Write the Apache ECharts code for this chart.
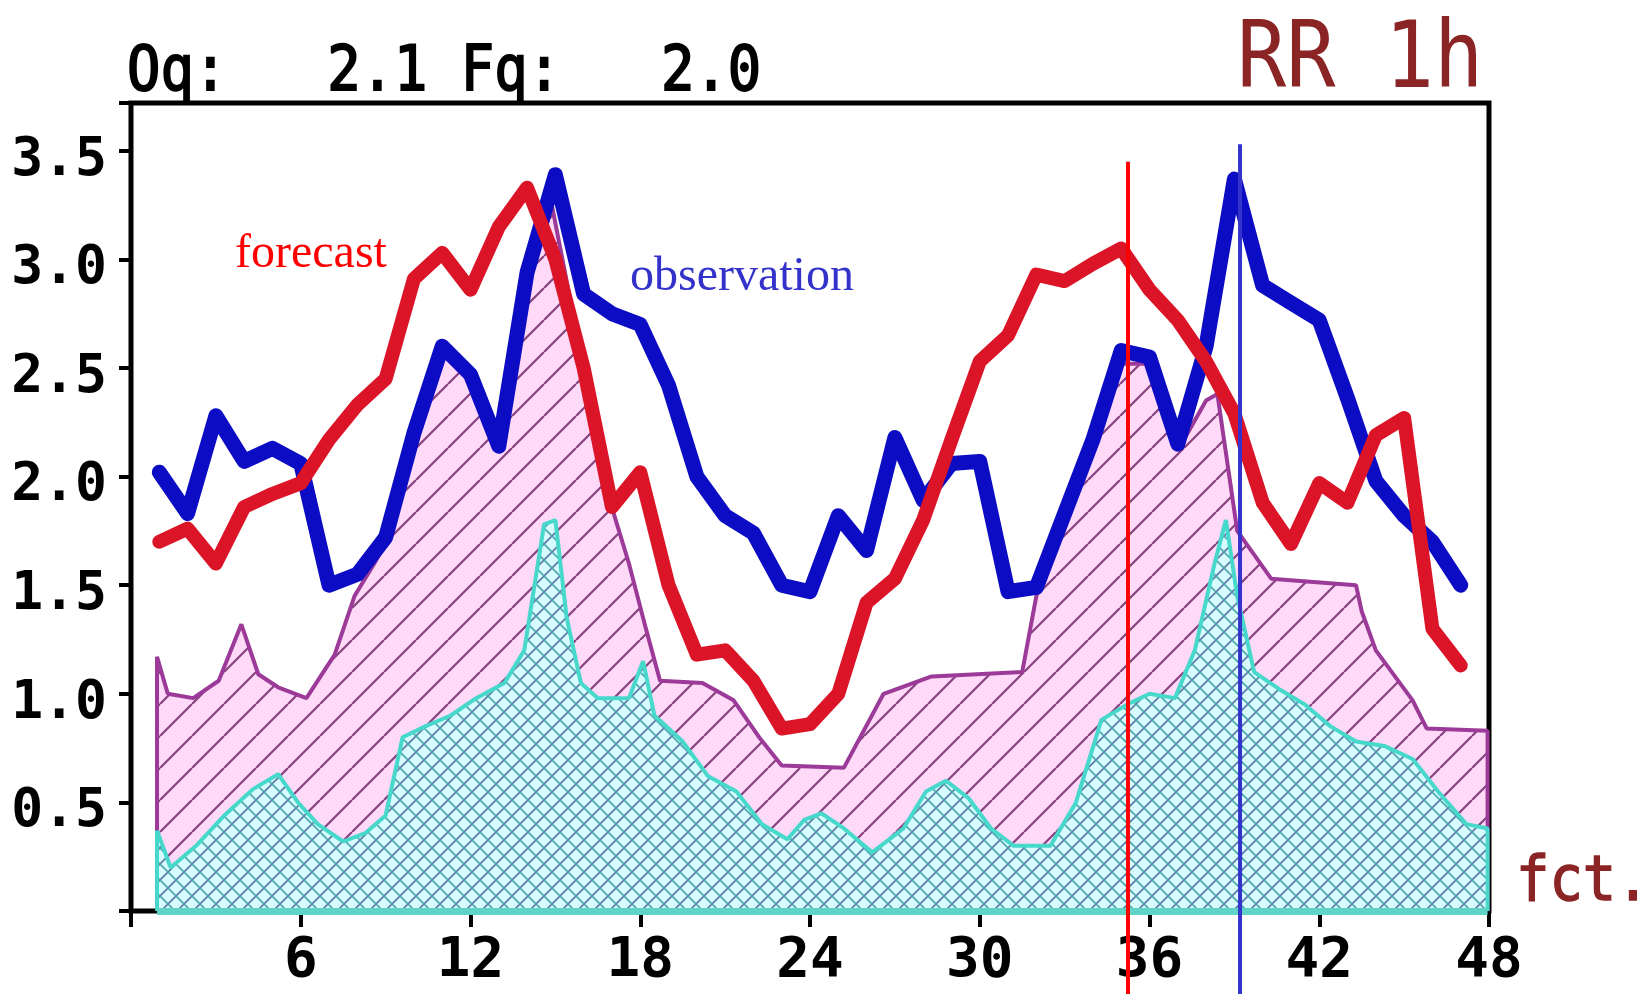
<!DOCTYPE html>
<html lang="en">
<head>
<meta charset="UTF-8">
<title>RR 1h</title>
<script src="https://cdn.jsdelivr.net/npm/echarts@6/dist/echarts.min.js"></script>
<style>
    html, body { margin: 0; padding: 0; background: #fff; }
    #main { width: 1641px; height: 994px; }
</style>
</head>
<body>
<div id="main"></div>
<script type="text/javascript">
// forecast hour of each value
var hours = [1, 2, 3, 4, 5, 6, 7, 8, 9, 10, 11, 12, 13, 14, 15, 16, 17, 18, 19, 20, 21, 22, 23, 24,
             25, 26, 27, 28, 29, 30, 31, 32, 33, 34, 35, 36, 37, 38, 39, 40, 41, 42, 43, 44, 45, 46, 47];
// observation (blue)
var obsValues = [2.02, 1.83, 2.28, 2.07, 2.13, 2.06, 1.50, 1.55, 1.72, 2.20, 2.60, 2.47, 2.14, 2.94, 3.39, 2.84,
                 2.75, 2.70, 2.42, 2.00, 1.82, 1.74, 1.50, 1.47, 1.82, 1.66, 2.18, 1.89, 2.06, 2.07, 1.47, 1.49,
                 1.83, 2.17, 2.58, 2.55, 2.15, 2.60, 3.37, 2.88, 2.80, 2.72, 2.36, 1.98, 1.82, 1.70, 1.50];
// forecast (red)
var fcstValues = [1.70, 1.76, 1.60, 1.86, 1.92, 1.97, 2.17, 2.33, 2.45, 2.91, 3.03, 2.86, 3.15, 3.33, 3.00, 2.50,
                  1.86, 2.02, 1.50, 1.18, 1.20, 1.06, 0.84, 0.86, 1.00, 1.42, 1.53, 1.80, 2.17, 2.53, 2.65, 2.93,
                  2.90, 2.98, 3.05, 2.86, 2.72, 2.53, 2.29, 1.88, 1.69, 1.97, 1.88, 2.19, 2.27, 1.30, 1.13];
// upper band, purple outline with pink hatch  [hour, value]
var upperBand = [[0.92, 0], [0.92, 1.17], [1.3, 1.0], [2.2, 0.98], [3.1, 1.06], [3.9, 1.32], [4.5, 1.09], [5.2, 1.03],
                 [6.2, 0.98], [7.2, 1.18], [7.9, 1.45], [8.6, 1.6], [9.1, 1.72], [10.0, 2.2], [10.8, 2.58], [11.6, 2.55],
                 [12.1, 2.43], [12.9, 2.12], [14.0, 2.9], [14.8, 3.3], [15.4, 2.9], [16.1, 2.4], [16.9, 1.9], [17.6, 1.6],
                 [18.2, 1.3], [18.7, 1.06], [20.2, 1.05], [21.3, 0.97], [22.2, 0.8], [23.0, 0.67], [25.2, 0.66], [26.6, 1.0],
                 [28.3, 1.08], [31.5, 1.1], [32.0, 1.45], [33.0, 1.82], [34.0, 2.15], [34.9, 2.52], [36.1, 2.52], [37.0, 2.12],
                 [38.0, 2.35], [38.4, 2.38], [39.1, 1.75], [40.3, 1.53], [43.3, 1.5], [43.5, 1.38], [44.0, 1.2], [45.3, 0.97],
                 [45.8, 0.84], [47.95, 0.83], [47.95, 0]];
// lower band, cyan outline with cross hatch  [hour, value]
var lowerBand = [[0.92, 0], [0.92, 0.37], [1.4, 0.2], [2.3, 0.3], [3.3, 0.44], [4.3, 0.56], [5.2, 0.63], [5.9, 0.5],
                 [6.6, 0.4], [7.5, 0.32], [8.3, 0.36], [9.0, 0.44], [9.6, 0.8], [10.4, 0.85], [11.3, 0.9], [12.2, 0.98],
                 [13.2, 1.05], [13.9, 1.2], [14.6, 1.78], [15.0, 1.8], [15.4, 1.35], [15.9, 1.05], [16.5, 0.98], [17.6, 0.98],
                 [18.1, 1.15], [18.5, 0.9], [19.5, 0.78], [20.4, 0.62], [21.4, 0.55], [22.3, 0.4], [23.2, 0.33], [23.8, 0.42],
                 [24.4, 0.45], [25.2, 0.38], [26.2, 0.27], [27.3, 0.38], [28.1, 0.55], [28.8, 0.6], [29.6, 0.52], [30.4, 0.38],
                 [31.2, 0.3], [32.5, 0.3], [33.4, 0.5], [34.3, 0.88], [35.2, 0.95], [36.0, 1.0], [36.9, 0.98], [37.6, 1.2],
                 [38.3, 1.6], [38.7, 1.8], [39.1, 1.45], [39.7, 1.1], [40.6, 1.02], [41.5, 0.95], [42.4, 0.85], [43.3, 0.78],
                 [44.3, 0.76], [45.3, 0.7], [46.2, 0.55], [47.2, 0.4], [47.95, 0.38], [47.95, 0]];
// vertical marker lines: [hour, top value, bottom value]
var fcstMarker = [35.24, 3.45, -0.4];
var obsMarker = [39.2, 3.53, -0.4];

var xTickLabels = [6, 12, 18, 24, 30, 36, 42, 48];
var yTickLabels = ['0.5', '1.0', '1.5', '2.0', '2.5', '3.0', '3.5'];

var headerText = 'Oq:   2.1 Fq:   2.0';
var titleText = 'RR 1h';
var unitText = 'fct.';

// hatch fill tiles
function hatch(size, bg, color, width, cross) {
    var c = document.createElement('canvas');
    c.width = size;
    c.height = size;
    var g = c.getContext('2d');
    g.fillStyle = bg;
    g.fillRect(0, 0, size, size);
    g.lineWidth = width;
    g.strokeStyle = color;
    g.beginPath();
    for (var k = -1; k <= 1; k++) {
        g.moveTo(k * size, size);
        g.lineTo(k * size + size, 0);
    }
    g.stroke();
    if (cross) {
        g.strokeStyle = cross;
        g.beginPath();
        for (var k = -1; k <= 1; k++) {
            g.moveTo(k * size, 0);
            g.lineTo(k * size + size, size);
        }
        g.stroke();
    }
    return c;
}

function pairs(xs, ys) {
    return xs.map(function (x, i) { return [x, ys[i]]; });
}

var myChart = echarts.init(document.getElementById('main'));

var option = {
    animation: false,
    backgroundColor: '#ffffff',
    grid: {
        left: 131, right: 152, top: 103, bottom: 83,
        show: true, borderColor: '#000', borderWidth: 5, backgroundColor: 'transparent'
    },
    xAxis: {
        type: 'value', min: 0, max: 48, interval: 6,
        axisLine: { show: false },
        splitLine: { show: false },
        axisTick: { show: true, inside: false, length: 16, lineStyle: { color: '#000', width: 4 } },
        axisLabel: {
            margin: 22, color: '#000', fontFamily: 'DejaVu Sans Mono', fontWeight: 'bold', fontSize: 56,
            formatter: function (v) { return xTickLabels.indexOf(v) >= 0 ? String(v) : ''; }
        }
    },
    yAxis: {
        type: 'value', min: 0, max: 3.72, interval: 0.5,
        axisLine: { show: false },
        splitLine: { show: false },
        axisTick: { show: true, inside: false, length: 12, lineStyle: { color: '#000', width: 4 } },
        axisLabel: {
            margin: 24, color: '#000', fontFamily: 'DejaVu Sans Mono', fontWeight: 'bold', fontSize: 53,
            verticalAlign: 'top', lineHeight: 20,
            formatter: function (v) {
                var s = v.toFixed(1);
                return (yTickLabels.indexOf(s) >= 0 && Math.abs(v - parseFloat(s)) < 1e-6) ? s : '';
            }
        }
    },
    graphic: {
        elements: [
            { type: 'text', x: 127, y: 74, scaleX: 0.88, z: 20,
              style: { text: headerText, fill: '#000', stroke: '#000', lineWidth: 2,
                       font: '63px "DejaVu Sans Mono"', verticalAlign: 'middle' } },
            { type: 'text', x: 1237, y: 63, scaleX: 0.88, z: 20,
              style: { text: titleText, fill: '#8b2424', font: '93px "DejaVu Sans Mono"', verticalAlign: 'middle' } },
            { type: 'text', x: 1516, y: 884, scaleX: 0.88, z: 20,
              style: { text: unitText, fill: '#8b2424', stroke: '#8b2424', lineWidth: 1.5,
                       font: '63px "DejaVu Sans Mono"', verticalAlign: 'middle' } },
            { type: 'text', x: 235, y: 254, z: 20,
              style: { text: 'forecast', fill: '#ff0000', font: '48px "Liberation Serif"', verticalAlign: 'middle' } },
            { type: 'text', x: 630, y: 277, z: 20,
              style: { text: 'observation', fill: '#3333cc', font: '48px "Liberation Serif"', verticalAlign: 'middle' } }
        ]
    },
    series: [
        {
            name: 'upper', type: 'line', data: upperBand, symbol: 'none', z: 1,
            lineStyle: { color: '#9b3a98', width: 4 },
            areaStyle: { color: { image: hatch(32, '#ffd9f8', '#86427f', 2.2), repeat: 'repeat' }, opacity: 1 }
        },
        {
            name: 'lower', type: 'line', data: lowerBand, symbol: 'none', z: 2,
            lineStyle: { color: '#46d8cb', width: 4 },
            areaStyle: { color: { image: hatch(16, '#d6fcff', '#5a78a4', 1.6, '#4fa4ad'), repeat: 'repeat' }, opacity: 1 },
            markLine: {
                silent: true, symbol: 'none', label: { show: false },
                lineStyle: { color: '#5fd3c6', width: 7, type: 'solid' },
                data: [[{ coord: [lowerBand[0][0], 0] }, { coord: [lowerBand[lowerBand.length - 1][0], 0] }]]
            }
        },
        {
            name: 'observation', type: 'line', data: pairs(hours, obsValues), symbol: 'none', z: 3,
            lineStyle: { color: '#0c0cc4', width: 15, join: 'round', cap: 'round' }
        },
        {
            name: 'forecast', type: 'line', data: pairs(hours, fcstValues), symbol: 'none', z: 4,
            lineStyle: { color: '#dc1428', width: 14, join: 'round', cap: 'round' }
        },
        {
            name: 'fcstMarker', type: 'line', symbol: 'none', clip: false, z: 5,
            data: [[fcstMarker[0], fcstMarker[1]], [fcstMarker[0], fcstMarker[2]]],
            lineStyle: { color: '#ff0000', width: 4 }
        },
        {
            name: 'obsMarker', type: 'line', symbol: 'none', clip: false, z: 5,
            data: [[obsMarker[0], obsMarker[1]], [obsMarker[0], obsMarker[2]]],
            lineStyle: { color: '#3434cc', width: 4 }
        }
    ]
};
myChart.setOption(option);
</script>
</body>
</html>
